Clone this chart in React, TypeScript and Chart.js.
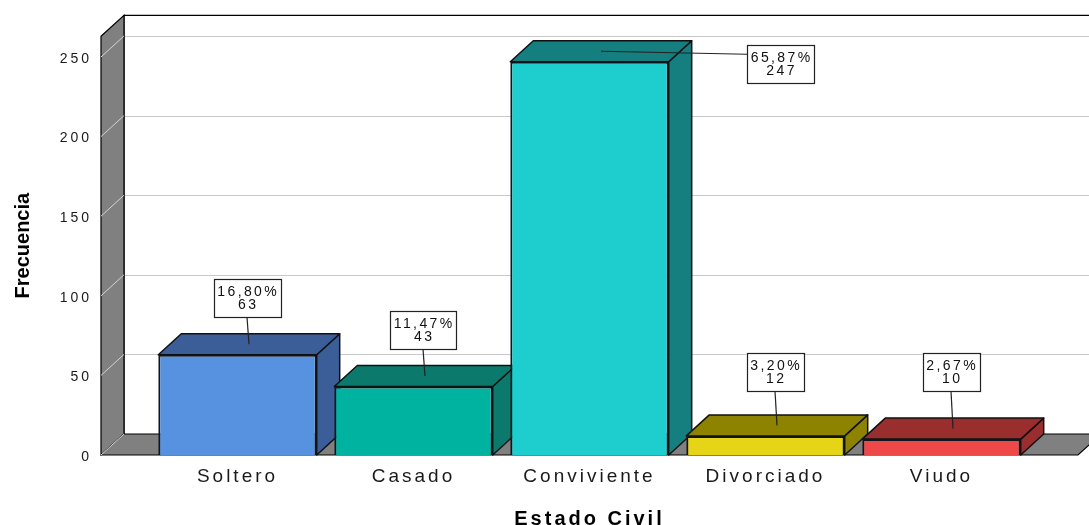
import React, { useEffect, useRef } from 'react';
import { Chart, registerables } from 'chart.js';

Chart.register(...registerables);

// ---- data ----
const categories = ['Soltero', 'Casado', 'Conviviente', 'Divorciado', 'Viudo'];
const frequencies = [63, 43, 247, 12, 10];
const frontColors = ['#5692E0', '#00B2A0', '#1ECECE', '#E6D416', '#EF4848'];
const shadeColors = ['#3B5E98', '#0B7A6D', '#157E7E', '#8D8300', '#9A2D2D'];
const yTicks = [0, 50, 100, 150, 200, 250];
const yMax = 263;

// ---- style constants ----
const DX = 23;
const DY = -21;
const FLOOR_EXT = 48.5;
const LABEL_GAP = 27;
const LABEL_MIN_LIFT = 64;
const FONT = '"Liberation Sans", Arial, sans-serif';
const WALL_GRAY = '#808080';

const total = frequencies.reduce((a, b) => a + b, 0);
const pctLabels = frequencies.map((v) => (v / total * 100).toFixed(2).replace('.', ',') + '%');

function poly(ctx: CanvasRenderingContext2D, pts: number[][], fill: string | null, stroke: string | null) {
  ctx.beginPath();
  ctx.moveTo(pts[0][0], pts[0][1]);
  for (let i = 1; i < pts.length; i++) ctx.lineTo(pts[i][0], pts[i][1]);
  ctx.closePath();
  if (fill) { ctx.fillStyle = fill; ctx.fill(); }
  if (stroke) { ctx.strokeStyle = stroke; ctx.stroke(); }
}

function seg(ctx: CanvasRenderingContext2D, x1: number, y1: number, x2: number, y2: number, color: string, w = 1) {
  ctx.beginPath();
  ctx.moveTo(x1, y1);
  ctx.lineTo(x2, y2);
  ctx.strokeStyle = color;
  ctx.lineWidth = w;
  ctx.stroke();
}

const threeD = {
  id: 'threeD',
  beforeDraw(chart: any) {
    (chart.ctx as any).letterSpacing = '0px';
  },
  beforeDatasetsDraw(chart: any) {
    const { ctx, chartArea: ca, scales } = chart;
    const y = scales.y;
    const fl = ca.left - FLOOR_EXT;
    const fr = ca.right + FLOOR_EXT;
    const top = ca.top;
    const base = y.getPixelForValue(0);
    ctx.save();
    ctx.lineWidth = 1;
    // back wall
    ctx.fillStyle = '#ffffff';
    ctx.fillRect(fl + DX, top + DY, fr - fl, base - top);
    for (const v of yTicks) {
      if (v === 0) continue;
      const py = Math.round(y.getPixelForValue(v) + DY) + 0.5;
      seg(ctx, fl + DX, py, fr + DX, py, '#c9c9c9');
    }
    ctx.beginPath();
    ctx.moveTo(fl + DX, base + DY);
    ctx.lineTo(fl + DX, top + DY);
    ctx.lineTo(fr + DX, top + DY);
    ctx.strokeStyle = '#000';
    ctx.lineWidth = 1.2;
    ctx.stroke();
    // side wall
    ctx.lineWidth = 1.2;
    poly(ctx, [[fl, top], [fl + DX, top + DY], [fl + DX, base + DY], [fl, base]], WALL_GRAY, '#000');
    for (const v of yTicks) {
      if (v === 0) continue;
      const py = y.getPixelForValue(v);
      seg(ctx, fl, py, fl + DX, py + DY, '#d4d4d4');
    }
    // floor
    ctx.lineWidth = 1.2;
    poly(ctx, [[fl, base], [fr, base], [fr + DX, base + DY], [fl + DX, base + DY]], WALL_GRAY, null);
    ctx.beginPath();
    ctx.moveTo(fl + DX, base + DY);
    ctx.lineTo(fr + DX, base + DY);
    ctx.moveTo(fr + DX, base + DY);
    ctx.lineTo(fr, base);
    ctx.lineTo(fl, base);
    ctx.strokeStyle = '#000';
    ctx.stroke();
    seg(ctx, fl, base, fl + DX, base + DY, '#d4d4d4');

    // bar side and top faces
    const meta = chart.getDatasetMeta(0);
    meta.data.forEach((bar: any, i: number) => {
      const p = bar.getProps(['x', 'y', 'base', 'width'], true);
      const x0 = p.x - p.width / 2;
      const x1 = p.x + p.width / 2;
      const ty = p.y;
      const by = p.base;
      ctx.lineWidth = 1.5;
      ctx.lineJoin = 'round';
      poly(ctx, [[x1, ty], [x1 + DX, ty + DY], [x1 + DX, by + DY], [x1, by]], shadeColors[i], '#111');
      poly(ctx, [[x0, ty], [x0 + DX, ty + DY], [x1 + DX, ty + DY], [x1, ty]], shadeColors[i], '#111');
    });
    ctx.restore();
  },
  afterDatasetsDraw(chart: any) {
    const { ctx, chartArea: ca, scales } = chart;
    const base = scales.y.getPixelForValue(0);
    const meta = chart.getDatasetMeta(0);
    ctx.save();
    (ctx as any).letterSpacing = '2.4px';
    ctx.font = '14px ' + FONT;
    const boxH = 38;
    meta.data.forEach((bar: any, i: number) => {
      const p = bar.getProps(['x', 'y', 'width'], true);
      const ax = p.x + DX / 2;
      const ay = p.y + DY / 2;
      const l1 = pctLabels[i];
      const l2 = String(frequencies[i]);
      const tw = Math.max(ctx.measureText(l1).width, ctx.measureText(l2).width);
      const boxW = tw + 5;
      let bx: number, byTop: number, ex: number, ey: number;
      if (ay - LABEL_GAP - boxH < ca.top + DY) {
        bx = ax + 146;
        byTop = ay - 6;
        ex = bx;
        ey = byTop + 9;
      } else {
        const bottom = Math.min(ay - LABEL_GAP, base - LABEL_MIN_LIFT);
        bx = ax - 2 - boxW / 2;
        byTop = bottom - boxH;
        ex = bx + boxW / 2;
        ey = bottom;
      }
      seg(ctx, ax, ay, ex, ey, '#222', 1.2);
      ctx.fillStyle = '#fff';
      ctx.fillRect(bx, byTop, boxW, boxH);
      ctx.strokeStyle = '#222';
      ctx.lineWidth = 1.2;
      ctx.strokeRect(Math.round(bx) + 0.5, Math.round(byTop) + 0.5, Math.round(boxW), boxH);
      ctx.fillStyle = '#111';
      ctx.textAlign = 'center';
      ctx.textBaseline = 'middle';
      const cx = bx + boxW / 2 + 1.2;
      ctx.fillText(l1, cx, byTop + 13);
      ctx.fillText(l2, cx, byTop + 26);
    });
    ctx.restore();
    (ctx as any).letterSpacing = '3px';
  },
};

export default function App() {
  const ref = useRef<HTMLCanvasElement | null>(null);
  useEffect(() => {
    if (!ref.current) return;
    const chart = new Chart(ref.current, {
      type: 'bar',
      data: {
        labels: categories,
        datasets: [
          {
            data: frequencies,
            backgroundColor: frontColors,
            borderColor: '#10141c',
            borderWidth: 2,
            categoryPercentage: 0.9,
            barPercentage: 1,
          },
        ],
      },
      options: {
        responsive: false,
        animation: false,
        layout: { padding: { left: 0, right: 59.5, top: 36.3, bottom: 0 } },
        plugins: { legend: { display: false }, tooltip: { enabled: false } },
        scales: {
          x: {
            offset: true,
            grid: { display: false, z: 1 },
            border: { display: false },
            ticks: { padding: 2, z: 1, color: '#1a1a1a', font: { family: FONT, size: 19 } },
            title: {
              display: true,
              text: 'Estado Civil',
              color: '#000',
              font: { family: FONT, size: 20, weight: 'bold' },
              padding: { top: 0, bottom: -6 },
            },
            afterFit: (s: any) => { s.height = 70; },
          },
          y: {
            min: 0,
            max: yMax,
            grid: { display: false },
            border: { display: false },
            afterBuildTicks: (s: any) => { s.ticks = yTicks.map((v) => ({ value: v })); },
            ticks: { padding: 49.5, labelOffset: 2, z: 1, color: '#1a1a1a', font: { family: FONT, size: 14 } },
            title: {
              display: true,
              text: 'Frecuencia',
              color: '#000',
              font: { family: FONT, size: 20, weight: 'bold' },
              padding: { top: 11, bottom: 0 },
            },
            afterFit: (s: any) => {
              s.width = 149.5;
              s.paddingTop = 0;
              s.paddingBottom = 0;
            },
          },
        },
      } as any,
      plugins: [threeD as any],
    });
    return () => chart.destroy();
  }, []);
  return (
    <div style={{ position: 'absolute', left: 0, top: 0, width: 1089, height: 525, background: '#fff' }}>
      <canvas ref={ref} width={1089} height={525} />
    </div>
  );
}
